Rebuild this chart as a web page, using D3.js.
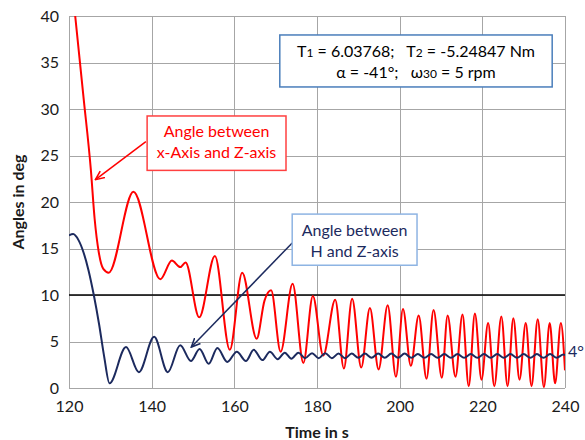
<!DOCTYPE html>
<html>
<head>
<meta charset="utf-8">
<script src="https://cdn.jsdelivr.net/npm/d3@7"></script>
<style>
  body { margin: 0; background: #fff; }
  svg { font-family: Lato, "Open Sans", sans-serif; }
</style>
</head>
<body>
<div id="chart"></div>
<script>
// DATA
const xTicks = [120, 140, 160, 180, 200, 220, 240];
const yTicks = [0, 5, 10, 15, 20, 25, 30, 35, 40];
const refAngle = 10;

// angle between x-axis and Z-axis (red)
const redTime = [120, 121.5, 123.5, 125.3, 126.2, 127.2, 128.3, 129.6, 135.6, 142.1, 144.9, 146.9, 148.2, 151.5,
    155.3, 158.9, 161.9, 165.4, 167.3, 168.9, 171.2, 174.1, 176.7, 179.0, 181.5, 184.4, 186.5, 188.5, 190.7,
    192.8, 194.9, 197.1, 199.1, 200.8, 202.7, 204.6, 206.5, 208.2, 210.2, 211.6, 213.5, 215.2, 216.7, 218.2,
    219.8, 221.4, 222.9, 224.6, 226.1, 227.5, 229.0, 230.5, 231.9, 233.4, 234.9, 236.3, 237.6, 239.0, 240];
const redAngle = [46.6, 40, 31.3, 23.4, 18.2, 14.6, 12.8, 12.4, 21.1, 11.7, 13.7, 13.0, 13.5, 7.6,
    14.2, 4.1, 12.4, 5.3, 9.4, 10.5, 3.9, 11.2, 2.7, 9.9, 3.5, 9.5, 2.1, 9.6, 2.2,
    8.6, 2.0, 8.9, 1.2, 8.5, 2.4, 7.8, 1.0, 8.4, 1.1, 7.8, 1.2, 7.9, 0.2, 8.0,
    0.9, 7.0, 0.2, 7.7, 0.2, 7.5, 0.9, 7.0, 0.2, 7.4, 0.1, 7.0, 0.5, 7.0, 1.9];

// angle between H and Z-axis (blue)
const blueTime = [120, 121.0, 122.3, 123.5, 124.7, 126.0, 127.3, 128.5, 129.8, 133.8, 136.9, 140.6, 143.9,
    146.9, 149.5, 151.6, 153.8, 155.9, 158.3, 160.6, 162.8, 164.7, 166.8, 168.6, 170.5, 172.2, 173.8, 175.5,
    177.1, 178.8, 180.4, 182.0, 183.6, 185.2, 186.8, 188.4, 190.0, 191.6, 193.2, 194.8, 196.4, 198.0, 199.6,
    201.2, 202.8, 204.4, 206.0, 207.6, 209.2, 210.8, 212.4, 214.0, 215.6, 217.2, 218.8, 220.4, 222.0, 223.6,
    225.2, 226.8, 228.4, 230.0, 231.6, 233.2, 234.8, 236.4, 238.0, 239.6, 240];
const blueAngle = [16.4, 16.55, 15.9, 14.6, 12.7, 10.0, 6.8, 3.4, 0.5, 4.4, 1.7, 5.5, 1.7,
    4.6, 2.9, 4.2, 2.6, 4.3, 2.8, 3.9, 2.9, 4.1, 3.0, 3.9, 3.1, 3.8, 3.15, 3.8,
    3.2, 3.75, 3.2, 3.75, 3.2, 3.7, 3.2, 3.7, 3.25, 3.7, 3.25, 3.7, 3.25, 3.7, 3.25,
    3.7, 3.25, 3.65, 3.25, 3.65, 3.25, 3.65, 3.25, 3.65, 3.25, 3.65, 3.25, 3.65, 3.25, 3.65,
    3.25, 3.65, 3.25, 3.65, 3.25, 3.65, 3.25, 3.65, 3.25, 3.6, 3.55];

const w = 585, h = 440;
const margin = { top: 16, right: 20, bottom: 52, left: 69 };
const width = w - margin.left - margin.right;
const height = h - margin.top - margin.bottom;

const svg = d3.select("#chart").append("svg")
    .attr("width", w)
    .attr("height", h);

// SCALES
const x = d3.scaleLinear().domain([120, 240]).range([margin.left, margin.left + width]);
const y = d3.scaleLinear().domain([0, 40]).range([margin.top + height, margin.top]);

// GRID
svg.append("g").selectAll("line").data(yTicks).enter().append("line")
    .attr("x1", x(120)).attr("x2", x(240))
    .attr("y1", d => Math.round(y(d)) + 0.5).attr("y2", d => Math.round(y(d)) + 0.5)
    .attr("stroke", "#a6a6a6").attr("stroke-width", 1);
svg.append("g").selectAll("line").data(xTicks).enter().append("line")
    .attr("y1", y(0)).attr("y2", y(40))
    .attr("x1", d => Math.round(x(d)) + 0.5).attr("x2", d => Math.round(x(d)) + 0.5)
    .attr("stroke", "#a6a6a6").attr("stroke-width", 1);

// AXES
const xAxis = svg.append("g")
    .attr("transform", "translate(0," + y(0) + ")")
    .call(d3.axisBottom(x).tickValues(xTicks).tickSize(0).tickPadding(13));
const yAxis = svg.append("g")
    .attr("transform", "translate(" + x(120) + ",0)")
    .call(d3.axisLeft(y).tickValues(yTicks).tickSize(0).tickPadding(10));
[xAxis, yAxis].forEach(a => {
    a.select(".domain").remove();
    a.selectAll("text").style("font-size", "16px").attr("fill", "#1a1a1a")
        .style("font-family", "Lato, sans-serif");
});

// AXES LABELS
svg.append("text")
    .text("Time in s")
    .attr("x", x(180)).attr("y", 438)
    .attr("text-anchor", "middle")
    .style("font-size", "16px").style("font-weight", "bold").attr("fill", "#1a1a1a");
svg.append("text")
    .text("Angles in deg")
    .attr("transform", "translate(24," + y(20) + ") rotate(-90)")
    .attr("text-anchor", "middle")
    .style("font-size", "16px").style("font-weight", "bold").attr("fill", "#1a1a1a");

// 10 deg reference line
svg.append("line")
    .attr("x1", x(120)).attr("x2", x(240))
    .attr("y1", y(refAngle)).attr("y2", y(refAngle))
    .attr("stroke", "#000").attr("stroke-width", 1.6);

// LINES
svg.append("clipPath").attr("id", "plotClip").append("rect")
    .attr("x", x(120)).attr("y", y(40)).attr("width", width).attr("height", height);

const line = d3.line()
    .x(d => x(d[0]))
    .y(d => y(d[1]))
    .curve(d3.curveMonotoneX);

svg.append("path")
    .datum(redTime.map((t, i) => [t, redAngle[i]]))
    .attr("clip-path", "url(#plotClip)")
    .attr("d", line)
    .attr("fill", "none").attr("stroke", "#ff0000").attr("stroke-width", 2);

svg.append("path")
    .datum(blueTime.map((t, i) => [t, blueAngle[i]]))
    .attr("clip-path", "url(#plotClip)")
    .attr("d", line)
    .attr("fill", "none").attr("stroke", "#1c2a5e").attr("stroke-width", 2);

svg.append("text")
    .text("4°")
    .attr("x", x(240) + 3).attr("y", y(blueAngle[blueAngle.length - 1]) + 2)
    .style("font-size", "16px").attr("fill", "#1c2a5e");

// ANNOTATIONS
const defs = svg.append("defs");
function marker(id, color) {
    defs.append("marker")
        .attr("id", id).attr("viewBox", "0 0 10 10")
        .attr("refX", 9).attr("refY", 5)
        .attr("markerWidth", 10).attr("markerHeight", 10)
        .attr("markerUnits", "userSpaceOnUse").attr("orient", "auto")
        .append("path").attr("d", "M0,1 L9,5 L0,9")
        .attr("fill", "none").attr("stroke", color).attr("stroke-width", 1.6);
}
marker("arrRed", "#ff0000");
marker("arrBlue", "#1c2a5e");

svg.append("line")
    .attr("x1", x(138.6)).attr("y1", y(26.5)).attr("x2", x(126.4)).attr("y2", y(22.4))
    .attr("stroke", "#ff0000").attr("stroke-width", 1.5).attr("marker-end", "url(#arrRed)");
svg.append("line")
    .attr("x1", x(174.0)).attr("y1", y(15.6)).attr("x2", x(149.6)).attr("y2", y(4.4))
    .attr("stroke", "#1c2a5e").attr("stroke-width", 1.5).attr("marker-end", "url(#arrBlue)");

function box(x0, y0, x1, y1, stroke, color, lines, size) {
    svg.append("rect")
        .attr("x", x(x0)).attr("y", y(y0))
        .attr("width", x(x1) - x(x0)).attr("height", y(y1) - y(y0))
        .attr("fill", "#fff").attr("stroke", stroke).attr("stroke-width", 1.5);
    const cx = (x(x0) + x(x1)) / 2;
    lines.forEach((l, i) => {
        const t = svg.append("text")
            .attr("x", cx).attr("y", l.y)
            .attr("text-anchor", "middle")
            .attr("xml:space", "preserve")
            .style("white-space", "pre")
            .style("font-size", size + "px").attr("fill", color);
        l.parts.forEach(p => {
            t.append("tspan").text(p[0]).style("font-size", (p[1] ? 12 : size) + "px");
        });
    });
}

box(138.9, 29.25, 172.5, 23.4, "#ff4040", "#ff0000", [
    { y: 137, parts: [["Angle between"]] },
    { y: 158, parts: [["x-Axis and Z-axis"]] }
], 16);

box(174.0, 18.7, 204.2, 13.2, "#8eb4e3", "#1c2a5e", [
    { y: 236, parts: [["Angle between"]] },
    { y: 257, parts: [["H and Z-axis"]] }
], 16);

box(171.0, 37.96, 236.9, 32.37, "#4a7ebb", "#000", [
    { y: 57, parts: [["T"], ["1", true], [" = 6.03768;   T"], ["2", true], [" = -5.24847 Nm"]] },
    { y: 78, parts: [["α = -41°;   ω"], ["30", true], [" = 5 rpm"]] }
], 16);
</script>
</body>
</html>
